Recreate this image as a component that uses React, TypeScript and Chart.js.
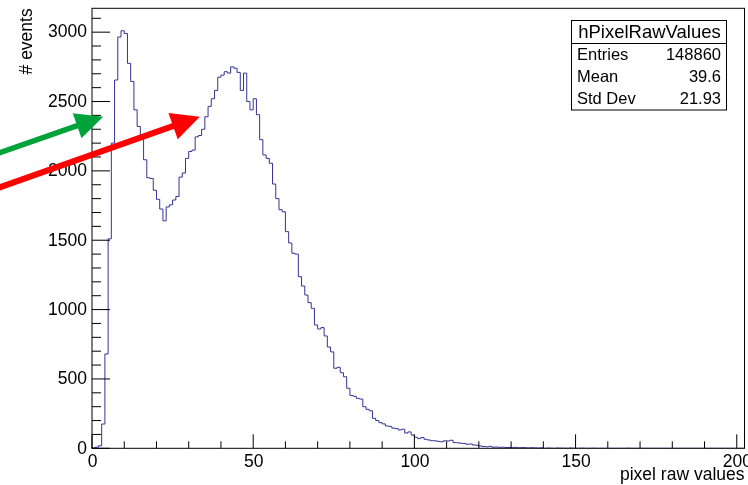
import React, { useEffect, useRef } from "react";
import { Chart, registerables } from "chart.js";

Chart.register(...registerables);

// ---- data ----
const histName = "hPixelRawValues";
const xTitle = "pixel raw values";
const yTitle = "# events";
const binLow = 0;
const binWidth = 1;
const binValues = [
  0, 3, 8, 18, 175, 680, 1510, 2200, 2655, 2965,
  3010, 2990, 2775, 2645, 2440, 2320, 2225, 2080, 1950, 1945,
  1860, 1795, 1725, 1640, 1740, 1755, 1790, 1815, 1955, 1985,
  2090, 2140, 2150, 2245, 2255, 2300, 2390, 2465, 2520, 2580,
  2675, 2690, 2715, 2705, 2750, 2740, 2710, 2580, 2705, 2500,
  2440, 2520, 2405, 2225, 2115, 2090, 2055, 1905, 1800, 1720,
  1705, 1562, 1480, 1406, 1400, 1237, 1170, 1105, 1050, 1009,
  889, 860, 870, 810, 730, 695, 577, 584, 545, 516,
  433, 380, 375, 360, 355, 300, 281, 271, 216, 200,
  185, 176, 161, 158, 145, 142, 132, 138, 110, 118,
  95, 80, 70, 78, 65, 60, 55, 54, 50, 47,
  54, 53, 58, 41, 40, 36, 35, 29, 31, 24,
  22, 17, 13, 11, 14, 8, 9, 7, 8, 6,
  6, 5, 7, 4, 5, 4, 3, 4, 3, 2,
  3, 0, 2, 1, 0, 2, 1, 1, 0, 2,
  1, 0, 1, 1, 0, 0, 1, 0, 0, 0,
  0, 0, 0, 0, 0, 0, 0, 1, 0, 0,
  0, 0, 0, 0, 0, 0, 0, 0, 0, 0,
  0, 0, 0, 0, 0, 0, 0, 0, 0, 0,
  0, 0, 0, 0, 0, 0, 0, 0, 0, 0,
  0, 0, 0,
];
const xRange = [0, 202.4];
const yRange = [0, 3172];
const xMajorTicks = [0, 50, 100, 150, 200];
const xMinorStep = 10;
const yMajorTicks = [0, 500, 1000, 1500, 2000, 2500, 3000];
const yMinorStep = 100;
const statsLabels = ["Entries", "Mean", "Std Dev"];
const statsValues = ["148860", "39.6", "21.93"];
// annotation arrows in data coordinates: [tailX, tailY, tipX, tipY]
const greenArrow = [-30, 2120, 3.47, 2391];
const redArrow = [-30, 1870, 33.46, 2391];

const FONT = '"Liberation Sans", Arial, Helvetica, sans-serif';

function drawArrow(ctx: CanvasRenderingContext2D, x0: number, y0: number, x1: number, y1: number,
  color: string, width: number, headLen: number, headWidth: number) {
  const dx = x1 - x0, dy = y1 - y0;
  const len = Math.hypot(dx, dy);
  const ux = dx / len, uy = dy / len;
  const px = -uy, py = ux;
  ctx.save();
  ctx.strokeStyle = color;
  ctx.fillStyle = color;
  ctx.lineWidth = width;
  ctx.lineCap = "butt";
  ctx.beginPath();
  ctx.moveTo(x0, y0);
  ctx.lineTo(x1 - ux * headLen * 0.8, y1 - uy * headLen * 0.8);
  ctx.stroke();
  const bx = x1 - ux * headLen, by = y1 - uy * headLen;
  ctx.beginPath();
  ctx.moveTo(x1, y1);
  ctx.lineTo(bx + px * headWidth / 2, by + py * headWidth / 2);
  ctx.lineTo(bx - px * headWidth / 2, by - py * headWidth / 2);
  ctx.closePath();
  ctx.fill();
  ctx.restore();
}

const rootDecor = {
  id: "rootDecor",
  afterDraw(chart: any) {
    const ctx: CanvasRenderingContext2D = chart.ctx;
    const xs = chart.scales.x;
    const ys = chart.scales.y;
    const a = chart.chartArea;
    ctx.save();
    // frame
    ctx.strokeStyle = "#000";
    ctx.lineWidth = 1;
    ctx.strokeRect(a.left, a.top, a.right - a.left, a.bottom - a.top);

    // y ticks
    ctx.beginPath();
    for (let v = yRange[0]; v <= yRange[1]; v += yMinorStep) {
      const py = ys.getPixelForValue(v);
      const major = yMajorTicks.includes(v);
      ctx.moveTo(a.left, py);
      ctx.lineTo(a.left + (major ? 18 : 9), py);
    }
    // x ticks
    for (let v = xRange[0]; v <= xRange[1]; v += xMinorStep) {
      const px = xs.getPixelForValue(v);
      const major = xMajorTicks.includes(v);
      ctx.moveTo(px, a.bottom);
      ctx.lineTo(px, a.bottom - (major ? 14 : 7));
    }
    ctx.stroke();

    // tick labels
    ctx.fillStyle = "#000";
    ctx.font = `17.5px ${FONT}`;
    ctx.textAlign = "right";
    ctx.textBaseline = "middle";
    for (const v of yMajorTicks) {
      ctx.fillText(String(v), a.left - 5, ys.getPixelForValue(v) + 0.5);
    }
    ctx.textAlign = "center";
    ctx.textBaseline = "alphabetic";
    for (const v of xMajorTicks) {
      ctx.fillText(String(v), xs.getPixelForValue(v) + 0.6, a.bottom + 18.5);
    }

    // axis titles
    ctx.textAlign = "right";
    ctx.fillText(xTitle, a.right, 479.5);
    ctx.save();
    ctx.translate(31.5, a.top);
    ctx.rotate(-Math.PI / 2);
    ctx.textAlign = "right";
    ctx.textBaseline = "alphabetic";
    ctx.fillText(yTitle, 0, 0);
    ctx.restore();

    // stats box
    const bl = 571, bt = 20, br = 726, bb = 109.5, sep = 43.5;
    ctx.fillStyle = "#fff";
    ctx.fillRect(bl, bt, br - bl, bb - bt);
    ctx.strokeStyle = "#000";
    ctx.lineWidth = 1;
    ctx.strokeRect(bl + 0.5, bt + 0.5, br - bl, bb - bt);
    ctx.beginPath();
    ctx.moveTo(bl + 0.5, sep);
    ctx.lineTo(br + 0.5, sep);
    ctx.stroke();
    ctx.fillStyle = "#000";
    ctx.font = `18.5px ${FONT}`;
    ctx.textAlign = "center";
    ctx.textBaseline = "middle";
    ctx.fillText(histName, (bl + br) / 2 + 1, 33);
    ctx.font = `16.5px ${FONT}`;
    const rowH = (bb - sep) / statsLabels.length;
    statsLabels.forEach((lab, i) => {
      const cy = sep + rowH * (i + 0.5) + 0.5;
      ctx.textAlign = "left";
      ctx.fillText(lab, bl + 6, cy);
      ctx.textAlign = "right";
      ctx.fillText(statsValues[i], br - 5, cy);
    });

    // arrows
    const g = greenArrow, r = redArrow;
    drawArrow(ctx, xs.getPixelForValue(g[0]), ys.getPixelForValue(g[1]),
      xs.getPixelForValue(g[2]), ys.getPixelForValue(g[3]), "#00a33a", 5.5, 27.6, 26.6);
    drawArrow(ctx, xs.getPixelForValue(r[0]), ys.getPixelForValue(r[1]),
      xs.getPixelForValue(r[2]), ys.getPixelForValue(r[3]), "#ff0000", 6, 28.4, 27.9);
    ctx.restore();
  },
};

export default function App() {
  const ref = useRef<HTMLCanvasElement | null>(null);
  useEffect(() => {
    document.body.style.margin = "0";
    const canvas = ref.current;
    if (!canvas) return;
    const points = binValues.map((v, i) => ({ x: binLow + i * binWidth, y: v }));
    points.push({ x: binLow + binValues.length * binWidth, y: binValues[binValues.length - 1] });
    const chart = new Chart(canvas, {
      type: "line",
      data: {
        datasets: [
          {
            data: points,
            stepped: "after",
            borderColor: "#333399",
            borderWidth: 1,
            pointRadius: 0,
            fill: false,
            tension: 0,
          } as any,
        ],
      },
      options: {
        animation: false,
        responsive: false,
        devicePixelRatio: 1,
        layout: { padding: { top: 8.3, right: 3.5, left: 0, bottom: 0 } },
        plugins: { legend: { display: false }, tooltip: { enabled: false } },
        scales: {
          x: {
            type: "linear",
            min: xRange[0],
            max: xRange[1],
            grid: { display: false },
            border: { display: false },
            ticks: { display: false },
            afterFit: (s: any) => { s.height = 36.7; },
          },
          y: {
            type: "linear",
            min: yRange[0],
            max: yRange[1],
            grid: { display: false },
            border: { display: false },
            ticks: { display: false },
            afterFit: (s: any) => { s.width = 92; },
          },
        },
      },
      plugins: [rootDecor],
    });
    return () => chart.destroy();
  }, []);
  return (
    <div style={{ width: 748, height: 485 }}>
      <canvas ref={ref} width={748} height={485} style={{ display: "block" }} />
    </div>
  );
}
